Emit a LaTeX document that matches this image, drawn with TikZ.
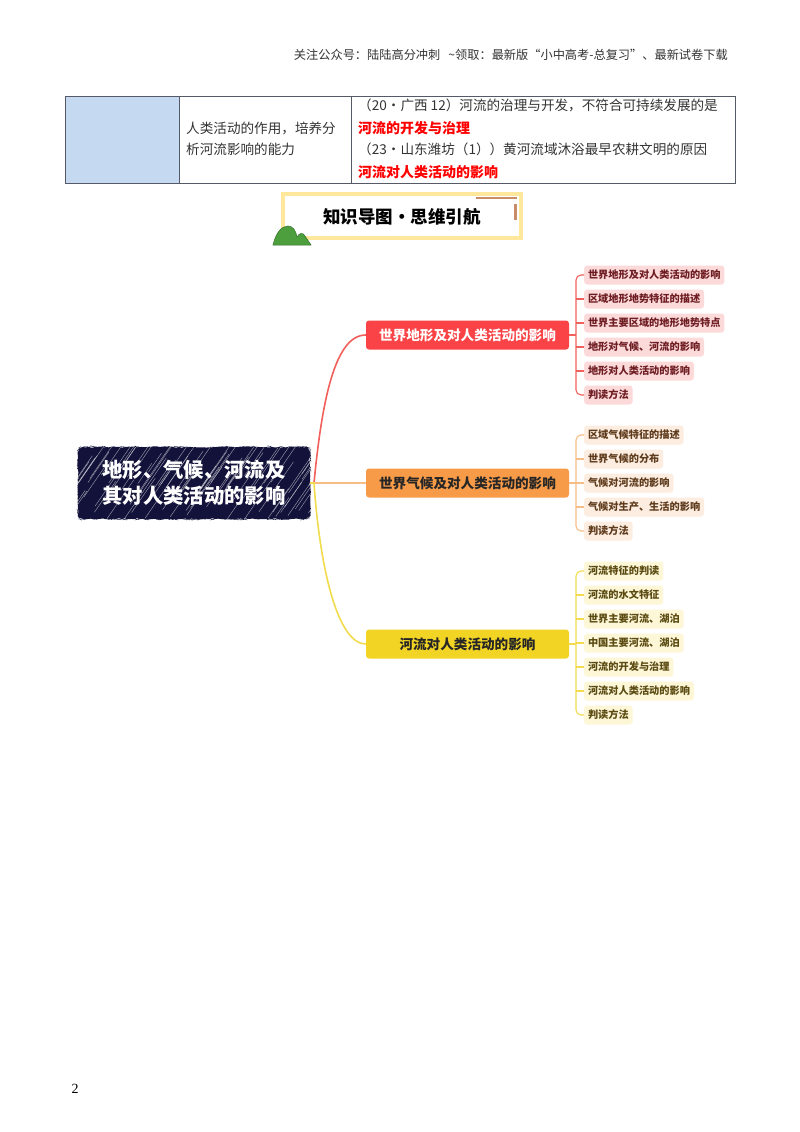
\documentclass[tikz,border=0pt]{standalone}
\usepackage{xcolor}
\usepackage{fontspec}
\setmainfont{Noto Sans CJK SC}
\newfontfamily\pagenofont{Liberation Serif}
\usetikzlibrary{decorations.pathmorphing}
\definecolor{redbox}{HTML}{F94346}
\definecolor{redline}{HTML}{F2605C}
\definecolor{redleaf}{HTML}{FDDADA}
\definecolor{redtext}{HTML}{6E1D22}
\definecolor{orangebox}{HTML}{F79B48}
\definecolor{orangeline}{HTML}{F6BE86}
\definecolor{orangeleaf}{HTML}{FDEDE0}
\definecolor{orangetext}{HTML}{5E3B1C}
\definecolor{yellowbox}{HTML}{F2D424}
\definecolor{yellowline}{HTML}{F2DC4E}
\definecolor{yellowleaf}{HTML}{FDF7D8}
\definecolor{yellowtext}{HTML}{5B4B12}
\definecolor{cellblue}{HTML}{C5D9F1}
\definecolor{gridgray}{HTML}{555A66}
\definecolor{framey}{HTML}{FFE79B}
\definecolor{frameo}{HTML}{C98C68}
\definecolor{hill}{HTML}{4C9F3C}
\definecolor{mainbg}{HTML}{12123A}
\tikzset{
	bodytext/.style={anchor=west, inner sep=0pt, text=black!80, font=\fontsize{13.6}{16}\selectfont},
	redtxt/.style={anchor=west, inner sep=0pt, text=red, font=\fontsize{14}{16}\selectfont\bfseries},
	branch/.style={rectangle, rounded corners=3pt, minimum width=203pt, minimum height=29pt, inner sep=0pt, font=\fontsize{13.6}{16}\selectfont\bfseries},
	leaf/.style={rectangle, rounded corners=3pt, anchor=west, minimum height=19pt, inner xsep=3.8pt, inner ysep=0pt, font=\fontsize{10.2}{12}\selectfont\bfseries},
	redleafnode/.style={leaf, fill=redleaf, text=redtext},
	orangeleafnode/.style={leaf, fill=orangeleaf, text=orangetext},
	yellowleafnode/.style={leaf, fill=yellowleaf, text=yellowtext},
	link/.style={line width=1.1pt, rounded corners=5pt}
}
\begin{document}
\begin{tikzpicture}[x=1pt, y=-1pt]
	\useasboundingbox (0,0) rectangle (800,1132);
	\fill[white] (0,0) rectangle (800,1132);
	\node [anchor=east, inner sep=0pt, text=black!80, font=\fontsize{12.2}{14}\selectfont] (header) at (728,55) {关注公众号：陆陆高分冲刺\hspace{8pt}\textasciitilde{}领取：最新版“小中高考-总复习”、最新试卷下载};
	% table
	\fill [cellblue] (65,96) rectangle (179,183);
	\draw [gridgray, line width=0.9pt] (65,96) rectangle (735,183) (179,96) -- (179,183) (351,96) -- (351,183);
	\node [bodytext] (cella) at (186,128) {人类活动的作用，培养分};
	\node [bodytext] (cellb) at (186,149) {析河流影响的能力};
	\node [bodytext] (rowa) at (358,105) {（20·广西 12）河流的治理与开发，不符合可持续发展的是};
	\node [redtxt] (rowb) at (358,128) {河流的开发与治理};
	\node [bodytext] (rowc) at (358,149) {（23·山东潍坊（1））黄河流域沐浴最早农耕文明的原因};
	\node [redtxt] (rowd) at (358,172) {河流对人类活动的影响};
	% title
	\draw [framey, line width=4pt] (283,194) rectangle (521,238);
	\draw [frameo, line width=1.4pt] (476,198) -- (517,198);
	\draw [frameo, line width=2.4pt] (515.5,204) -- (515.5,220);
	\fill [hill, draw=hill!70!black, line width=0.5pt] (273,245) .. controls (276,232) and (282,226) .. (288,226) .. controls (293,226) and (296,231) .. (297,237) .. controls (299,233) and (303,232) .. (305,236) -- (311,245) -- cycle;
	\node [inner sep=0pt, font=\fontsize{17.5}{20}\selectfont\bfseries] (title) at (402,217) {知识导图•思维引航};
	% centre
	\fill [mainbg, rounded corners=5pt, decorate, decoration={random steps, segment length=3pt, amplitude=0.7pt}] (78,447) rectangle (310,519);
	\begin{scope}
		\clip [rounded corners=5pt] (78,447) rectangle (310,519);
		\pgfmathsetseed{7}
		\foreach \i in {0,...,75}{
			\pgfmathsetmacro{\startx}{50+\i*3.4+rnd*4}
			\pgfmathsetmacro{\starty}{522-rnd*50}
			\pgfmathsetmacro{\lenx}{12+rnd*34}
			\draw [white, opacity=0.55, line width=0.45pt] (\startx,\starty) -- ++(\lenx,-1.45*\lenx);
		}
	\end{scope}
	\node [rectangle, minimum width=232pt, minimum height=72pt, inner sep=0pt, align=center, text=white, font=\fontsize{20.3}{25.5}\selectfont\bfseries] (main) at (194,483) {地形、气候、河流及\\其对人类活动的影响};
	% branches
	\node [branch, fill=redbox, text=white] (bra) at (467.5,335) {世界地形及对人类活动的影响};
	\node [branch, fill=orangebox, text=black!85] (brb) at (467.5,483) {世界气候及对人类活动的影响};
	\node [branch, fill=yellowbox, text=black!85] (brc) at (467.5,644) {河流对人类活动的影响};
	\coordinate (fork) at (314,483);
	\draw [orangeline, line width=1.1pt] (main.east) -- (brb.west);
	\draw [redline, line width=1.6pt] (main.east) -- (fork) .. controls (322,400) and (335,335) .. (bra.west);
	\draw [yellowline, line width=1.6pt] (main.east) -- (fork) .. controls (320,570) and (338,644) .. (brc.west);
	% leaves of the first branch
	\node [redleafnode] (aa) at (584,275) {世界地形及对人类活动的影响};
	\node [redleafnode] (ab) at (584,299) {区域地形地势特征的描述};
	\node [redleafnode] (ac) at (584,323) {世界主要区域的地形地势特点};
	\node [redleafnode] (ad) at (584,347) {地形对气候、河流的影响};
	\node [redleafnode] (ae) at (584,371) {地形对人类活动的影响};
	\node [redleafnode] (af) at (584,395) {判读方法};
	\draw [redline, line width=1.1pt] (bra.east) -- (576,335);
	\draw [redline, link] (aa.west) -| (576,335) |- (af.west);
	\draw [redline, link] (576,299) -- (ab.west) (576,323) -- (ac.west) (576,347) -- (ad.west) (576,371) -- (ae.west);
	% leaves of the second branch
	\node [orangeleafnode] (ba) at (584,435) {区域气候特征的描述};
	\node [orangeleafnode] (bb) at (584,459) {世界气候的分布};
	\node [orangeleafnode] (bc) at (584,483) {气候对河流的影响};
	\node [orangeleafnode] (bd) at (584,507) {气候对生产、生活的影响};
	\node [orangeleafnode] (be) at (584,531) {判读方法};
	\draw [orangeline, link] (ba.west) -| (576,483) |- (be.west);
	\draw [orangeline, link] (brb.east) -- (bc.west) (576,459) -- (bb.west) (576,507) -- (bd.west);
	% leaves of the third branch
	\node [yellowleafnode] (ca) at (584,571) {河流特征的判读};
	\node [yellowleafnode] (cb) at (584,595) {河流的水文特征};
	\node [yellowleafnode] (cc) at (584,619) {世界主要河流、湖泊};
	\node [yellowleafnode] (cd) at (584,643) {中国主要河流、湖泊};
	\node [yellowleafnode] (ce) at (584,667) {河流的开发与治理};
	\node [yellowleafnode] (cf) at (584,691) {河流对人类活动的影响};
	\node [yellowleafnode] (cg) at (584,715) {判读方法};
	\draw [yellowline, link] (ca.west) -| (576,643) |- (cg.west);
	\draw [yellowline, link] (brc.east) -- (576,644) (576,643) -- (cd.west) (576,595) -- (cb.west) (576,619) -- (cc.west) (576,667) -- (ce.west) (576,691) -- (cf.west);
	\node [inner sep=0pt, font=\pagenofont\fontsize{14}{16}\selectfont] (pageno) at (75,1089) {2};
\end{tikzpicture}
\end{document}
